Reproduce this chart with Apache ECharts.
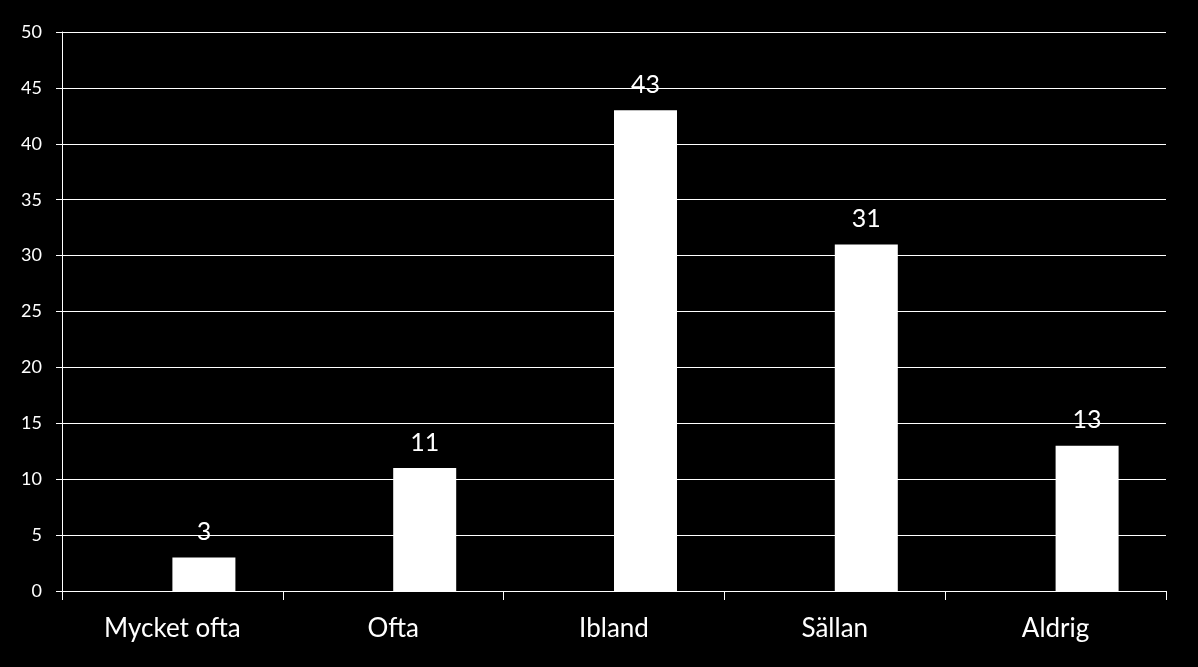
<!DOCTYPE html>
<html>
<head>
<meta charset="utf-8">
<script src="https://cdn.jsdelivr.net/npm/echarts@6/dist/echarts.min.js"></script>
<style>
  html, body { margin: 0; padding: 0; background: #000; }
  #chart { width: 1198px; height: 667px; }
</style>
</head>
<body>
<div id="chart"></div>
<script>
const categories = ['Mycket ofta', 'Ofta', 'Ibland', 'Sällan', 'Aldrig'];
const values = [3, 11, 43, 31, 13];
// empty first series, as in the original (bars sit right of the category centre)
const emptySeries = ['-', '-', '-', '-', '-'];

const chart = echarts.init(document.getElementById('chart'));

const option = {
  backgroundColor: '#000',
  animation: false,
  textStyle: { fontFamily: 'Lato' },
  grid: {
    left: 62,
    right: 32,
    top: 32,
    bottom: 76
  },
  xAxis: {
    type: 'category',
    data: categories,
    axisLine: { lineStyle: { color: '#fff', width: 1 } },
    axisTick: { show: true, length: 9, lineStyle: { color: '#fff' } },
    axisLabel: {
      color: '#fff',
      fontSize: 26,
      margin: 25
    }
  },
  yAxis: {
    type: 'value',
    min: 0,
    max: 50,
    interval: 5,
    axisLine: { show: true, lineStyle: { color: '#fff', width: 1 } },
    axisTick: { show: true, length: 6, lineStyle: { color: '#fff' } },
    axisLabel: {
      color: '#fff',
      fontSize: 18,
      margin: 20
    },
    splitLine: { lineStyle: { color: '#fff', width: 1 } }
  },
  series: [
    {
      type: 'bar',
      data: emptySeries,
      barWidth: 63,
      barGap: 0
    },
    {
      type: 'bar',
      data: values,
      barWidth: 63,
      barGap: 0,
      itemStyle: { color: '#fff' },
      label: {
        show: true,
        position: 'top',
        distance: 13,
        color: '#fff',
        fontSize: 25
      }
    }
  ]
};

chart.setOption(option);
</script>
</body>
</html>
